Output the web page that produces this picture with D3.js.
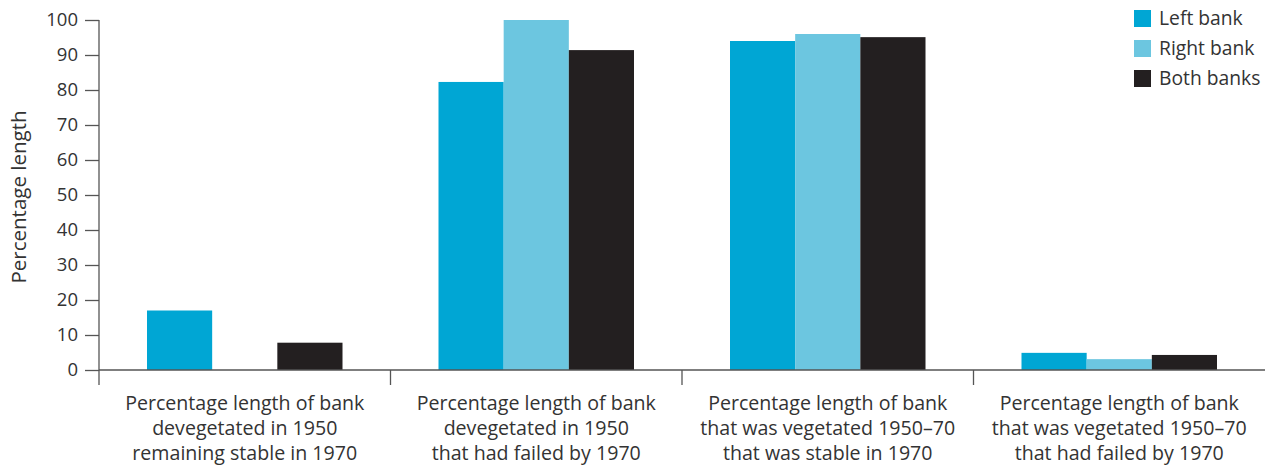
<!DOCTYPE html>
<html><head><meta charset="utf-8">
<script src="https://cdn.jsdelivr.net/npm/d3@7"></script>
<style>body{margin:0;background:#fff}svg{display:block}text{font-family:"Open Sans",sans-serif;fill:#333}</style>
</head><body><svg id="c" width="1274" height="468"></svg>
<script>
const categories = [
  ["Percentage length of bank","devegetated in 1950","remaining stable in 1970"],
  ["Percentage length of bank","devegetated in 1950","that had failed by 1970"],
  ["Percentage length of bank","that was vegetated 1950–70","that was stable in 1970"],
  ["Percentage length of bank","that was vegetated 1950–70","that had failed by 1970"]
];
const seriesNames = ["Left bank","Right bank","Both banks"];
const leftBank = [17, 82.3, 94, 4.9];
const rightBank = [0, 100, 96, 3.1];
const bothBanks = [7.8, 91.4, 95.1, 4.3];
const yTicks = [0,10,20,30,40,50,60,70,80,90,100];
const colors = ["#00a6d4","#6cc6e0","#231f20"];

const svg = d3.select("#c");
const x0 = 99, x1 = 1265, yTop = 20, yBot = 370;
const x = d3.scaleBand().domain(d3.range(categories.length)).range([x0,x1]);
const inner = d3.scaleBand().domain(d3.range(3)).range([48, x.bandwidth()-48]);
const y = d3.scaleLinear().domain([0,100]).range([yBot,yTop]);
const series = [leftBank,rightBank,bothBanks];

series.forEach((vals,si)=>{
  svg.append("g").selectAll("rect").data(vals).join("rect")
    .attr("x",(d,i)=>x(i)+inner(si))
    .attr("width",inner.bandwidth())
    .attr("y",d=>y(d))
    .attr("height",d=>yBot-y(d))
    .attr("fill",colors[si]);
});

const ya = svg.append("g").attr("transform",`translate(${x0},0)`)
  .call(d3.axisLeft(y).tickValues(yTicks).tickSize(14).tickPadding(7));
ya.select(".domain").remove();
ya.selectAll("line").attr("stroke","#555").attr("stroke-width",1.3);
ya.selectAll("text").attr("font-size",18.5).attr("fill","#333").style("font-family","'Open Sans',sans-serif");
svg.append("line").attr("x1",x0).attr("x2",x0).attr("y1",yTop).attr("y2",385).attr("stroke","#555").attr("stroke-width",1.3);

svg.append("line").attr("x1",x0).attr("x2",x1).attr("y1",yBot).attr("y2",yBot).attr("stroke","#555").attr("stroke-width",1.5);
svg.append("g").selectAll("line").data(d3.range(1,categories.length)).join("line")
  .attr("x1",i=>x(i)).attr("x2",i=>x(i)).attr("y1",yBot).attr("y2",385)
  .attr("stroke","#555").attr("stroke-width",1.3);

categories.forEach((lines,i)=>{
  const t = svg.append("text").attr("text-anchor","middle").attr("font-size",19.6)
    .attr("x",x(i)+x.bandwidth()/2).attr("y",410);
  lines.forEach((l,j)=>t.append("tspan").attr("x",x(i)+x.bandwidth()/2).attr("dy",j?25:0).text(l));
});

svg.append("text").attr("transform","translate(26,197) rotate(-90)")
  .attr("text-anchor","middle").attr("font-size",20.5).text("Percentage length");

const lg = svg.append("g");
seriesNames.forEach((n,i)=>{
  lg.append("rect").attr("x",1134).attr("y",10+i*30).attr("width",17).attr("height",17).attr("fill",colors[i]);
  lg.append("text").attr("x",1159).attr("y",25+i*30).attr("font-size",19.3).text(n);
});
</script></body></html>
